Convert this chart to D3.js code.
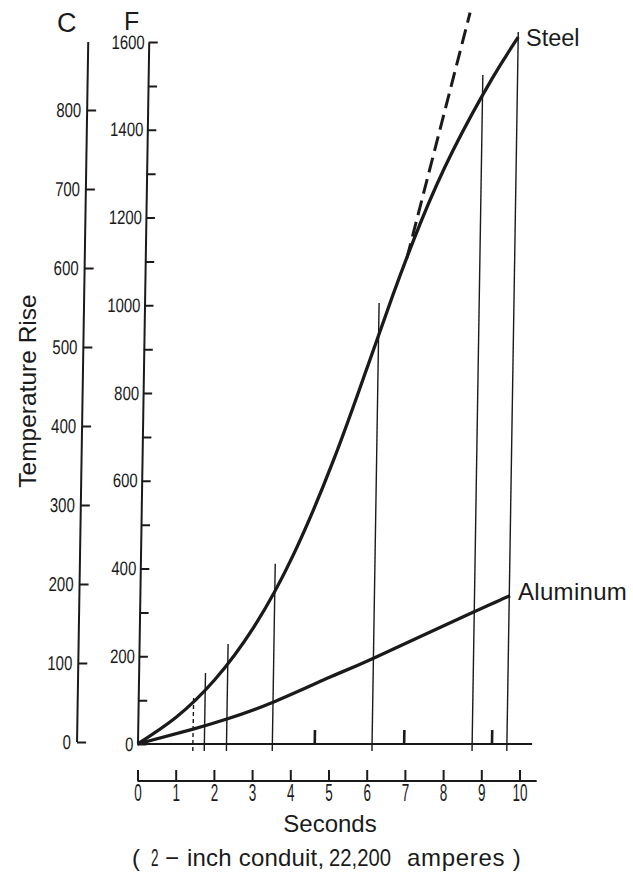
<!DOCTYPE html>
<html><head><meta charset="utf-8">
<script src="https://cdn.jsdelivr.net/npm/d3@7"></script>
<style>body{margin:0;background:#fff}</style>
</head><body>
<svg id="c" width="633" height="875"></svg>
<script>
// ---- data ----
const seconds = [0,1,2,3,4,5,6,7,8,9,10];
const fTicks = [0,100,200,300,400,500,600,700,800,900,1000,1100,1200,1300,1400,1500,1600];
const cTicks = [0,100,200,300,400,500,600,700,800];
const steelT = [0,1,2,3,4,5,5.8,6.5,7.2,8,9,9.67];
const steelF = [0,61,147,267,431,644,844,1024,1190,1351,1516,1611];
const aluT = [0,1.45,2.33,3.5,5.0,6.1,8.7,9.69];
const aluF = [0,34,57,94,152,194,299,338];
const dashT = [6.85,8.40];
const dashF = [1108,1667];
const readT = [1.45,1.75,2.33,3.53,6.14,8.76,9.67];
const readTopF = [110,162,228,411,1005,1525,1623];
const readDashed = [true,false,false,false,false,false,false];
const markT = [4.64,6.98,9.28];
const markTopF = [32,32,32];

const ink = "#1a1a1a";
const svg = d3.select("#c");
const x = d3.scaleLinear().domain([0,10]).range([137.5,519.5]);
const yF = d3.scaleLinear().domain([0,1600]).range([744,42]);
const yC = d3.scaleLinear().domain([0,800]).range([742,110]);

const plot = svg.append("g").attr("transform","translate(0,744) skewX(-0.917) translate(0,-744)");

function styleAxis(g, fs, perDigit){
  g.selectAll(".tick line").attr("stroke",ink).attr("stroke-width",2);
  g.selectAll("text").attr("font-family","'Liberation Sans',Arial,sans-serif")
   .attr("font-size",fs).attr("fill",ink)
   .each(function(){const s=this.textContent; if(s.length){d3.select(this).attr("textLength",s.length*perDigit).attr("lengthAdjust","spacingAndGlyphs");}});
}

// C axis
const cAxX = 77;
const gC = plot.append("g").attr("transform",`translate(${cAxX},0)`)
  .call(d3.axisLeft(yC).tickValues(cTicks).tickSize(-9).tickSizeOuter(0).tickPadding(6));
gC.select(".domain").remove();
plot.append("line").attr("x1",cAxX).attr("x2",cAxX).attr("y1",yC(0)).attr("y2",yF(1600)).attr("stroke",ink).attr("stroke-width",2);
styleAxis(gC,20,8.3);

// F axis
const gF = plot.append("g").attr("transform",`translate(${x(0)},0)`)
  .call(d3.axisLeft(yF).tickValues(fTicks).tickSize(-9).tickSizeOuter(0).tickPadding(4)
    .tickFormat(d=> d%200===0 ? d : ""));
gF.select(".domain").attr("stroke",ink).attr("stroke-width",2);
styleAxis(gF,19.5,8.3);

// baseline of plot
plot.append("line").attr("x1",x(0)).attr("x2",x(10.33)).attr("y1",yF(0)).attr("y2",yF(0)).attr("stroke",ink).attr("stroke-width",2);

// reading lines
readT.forEach((t,i)=>{
  plot.append("line").attr("x1",x(t)).attr("x2",x(t)).attr("y1",yF(-16)).attr("y2",yF(readTopF[i]))
    .attr("stroke",ink).attr("stroke-width",1.4)
    .attr("stroke-dasharray",readDashed[i]?"4,3":null);
});
markT.forEach((t,i)=>{
  plot.append("line").attr("x1",x(t)).attr("x2",x(t)).attr("y1",yF(0)).attr("y2",yF(markTopF[i]))
    .attr("stroke",ink).attr("stroke-width",2.6);
});

const line = d3.line().x(d=>x(d[0])).y(d=>yF(d[1])).curve(d3.curveNatural);
plot.append("path").datum(steelT.map((t,i)=>[t,steelF[i]])).attr("d",line)
  .attr("fill","none").attr("stroke",ink).attr("stroke-width",3.3);
plot.append("path").datum(aluT.map((t,i)=>[t,aluF[i]])).attr("d",line)
  .attr("fill","none").attr("stroke",ink).attr("stroke-width",3.3);
plot.append("path").datum(dashT.map((t,i)=>[t,dashF[i]])).attr("d",d3.line().x(d=>x(d[0])).y(d=>yF(d[1])))
  .attr("fill","none").attr("stroke",ink).attr("stroke-width",3).attr("stroke-dasharray","15,7");

// Seconds axis
const gB = svg.append("g").attr("transform","translate(0,781)")
  .call(d3.axisBottom(x).tickValues(seconds).tickSize(-11).tickSizeOuter(0).tickPadding(4));
gB.select(".domain").remove();
gB.append("line").attr("x1",x(0)).attr("x2",x(10.45)).attr("stroke",ink).attr("stroke-width",2);
styleAxis(gB,23,7.5);

// text
const font = "'Liberation Sans',Arial,Helvetica,sans-serif";
function txt(s,xx,yy,fs,anchor){return svg.append("text").attr("x",xx).attr("y",yy).attr("font-family",font).attr("font-size",fs).attr("fill",ink).attr("text-anchor",anchor||"start").text(s);}
txt("C",57,32,27);
txt("F",124,30,25);
svg.append("text").attr("transform","translate(36,391) rotate(-90)").attr("text-anchor","middle")
  .attr("font-family",font).attr("font-size",24.5).attr("fill",ink).text("Temperature  Rise");
txt("Steel",526,46,23.5);
txt("Aluminum",518,600,24).attr("letter-spacing",0.3);
txt("Seconds",330,832,24,"middle");
txt("(",132,866,24);
txt("2",151,866,23).attr("textLength",7.5).attr("lengthAdjust","spacingAndGlyphs");
txt("\u2212",165,866,24);
txt("inch conduit,",187,866,24).attr("letter-spacing",0.2);
txt("22,200",329,866,23).attr("textLength",62).attr("lengthAdjust","spacingAndGlyphs");
txt("amperes )",407,866,24).attr("letter-spacing",0.7);
</script>
</body></html>
